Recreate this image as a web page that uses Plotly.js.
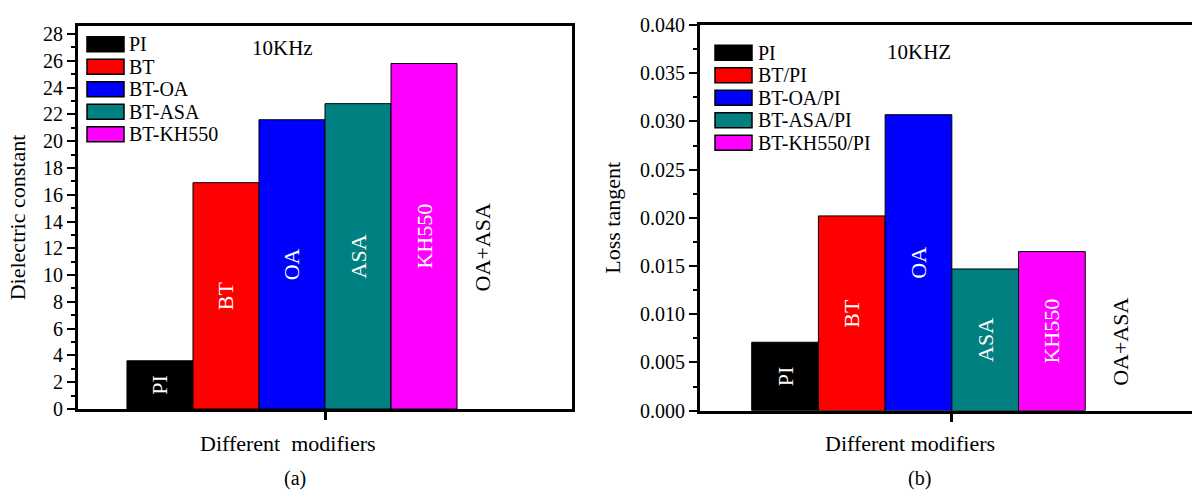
<!DOCTYPE html>
<html>
<head>
<meta charset="utf-8">
<script src="https://cdn.plot.ly/plotly-3.0.1.min.js"></script>
<style>html,body{margin:0;padding:0;background:#fff;}#chart{width:1192px;height:490px;}</style>
</head>
<body>
<div id="chart"></div>
<script>
// ---- data ----
const legendA = ['PI', 'BT', 'BT-OA', 'BT-ASA', 'BT-KH550'];
const legendB = ['PI', 'BT/PI', 'BT-OA/PI', 'BT-ASA/PI', 'BT-KH550/PI'];
const barLabels = ['PI', 'BT', 'OA', 'ASA', 'KH550'];
const emptySeriesLabel = 'OA+ASA';
const dielectricConstant = [3.6, 16.9, 21.6, 22.8, 25.8];
const lossTangent = [0.0071, 0.0202, 0.0307, 0.0147, 0.0165];
const freqA = '10KHz';
const freqB = '10KHZ';
const xTitleA = 'Different\u00a0 modifiers';
const xTitleB = 'Different modifiers';
const yTitleA = 'Dielectric constant';
const yTitleB = 'Loss tangent';
const panelA = '(a)';
const panelB = '(b)';

// ---- styles ----
const colors = ['#000000', '#FF0000', '#0000FF', '#008080', '#FF00FF'];
const FONT = 'Liberation Serif, Times New Roman, serif';
const FS = 20;      // tick labels
const FL = 22;      // titles / bar labels
const FLEG = 20;    // legend labels
const W = 1192, H = 490;

const nSlots = barLabels.length + 1;      // 6th slot is the empty OA+ASA series
const groupCenter = (1 + nSlots) / 2;

const traces = [];
function addPanel(values, names, xa, ya) {
  values.forEach((v, i) => {
    traces.push({
      type: 'bar', x: [i + 1], y: [v], width: 1, name: names[i],
      xaxis: xa, yaxis: ya, showlegend: false,
      marker: {color: colors[i], line: {color: '#000', width: 1}},
      text: [barLabels[i]], textposition: 'inside', insidetextanchor: 'middle',
      textangle: -90, insidetextfont: {color: '#fff', size: FL, family: FONT},
      hoverinfo: 'x+y'
    });
  });
}
addPanel(dielectricConstant, legendA, 'x', 'y');
addPanel(lossTangent, legendB, 'x2', 'y2');

// legend drawn as swatches + labels (Origin-style wide swatches)
const shapes = [];
const annotations = [];
function addLegend(names, x0, yTop, step, textX) {
  names.forEach((nm, i) => {
    const yc = yTop + i * step;
    shapes.push({type: 'rect', xref: 'paper', yref: 'paper',
      x0: x0 / W, x1: (x0 + 37) / W, y0: 1 - (yc - 7.5) / H, y1: 1 - (yc + 7.5) / H,
      fillcolor: colors[i], line: {color: '#000', width: 1.5}});
    annotations.push({xref: 'paper', yref: 'paper', x: textX / W, y: 1 - yc / H,
      xanchor: 'left', yanchor: 'middle', text: nm, showarrow: false, borderpad: 0,
      font: {family: FONT, size: FLEG, color: '#000'}});
  });
}
addLegend(legendA, 87, 44.3, 22.5, 128);
addLegend(legendB, 715, 52.8, 22.5, 757);

const axisCommon = {
  showline: true, linecolor: '#000', linewidth: 3, showgrid: false, zeroline: false,
  ticks: 'outside', tickcolor: '#000', fixedrange: true,
  tickfont: {family: FONT, size: FS, color: '#000'}
};

function paperText(x, y, text, size) {
  return {xref: 'paper', yref: 'paper', x: x / W, y: 1 - y / H, xanchor: 'center', yanchor: 'middle',
          text: text, showarrow: false, font: {family: FONT, size: size, color: '#000'}};
}

annotations.push(
  {xref: 'x', yref: 'y', x: nSlots - 0.1, y: 12.1, text: emptySeriesLabel, textangle: -90,
   xanchor: 'center', yanchor: 'middle',
   showarrow: false, font: {family: FONT, size: FL, color: '#000'}},
  {xref: 'x2', yref: 'y2', x: nSlots + 0.03, y: 0.0071, text: emptySeriesLabel, textangle: -90,
   xanchor: 'center', yanchor: 'middle',
   showarrow: false, font: {family: FONT, size: FL, color: '#000'}},
  paperText(282, 48, freqA, FS + 1),
  paperText(919, 52, freqB, FS + 1),
  paperText(288, 443, xTitleA, FL),
  paperText(910, 443, xTitleB, FL),
  paperText(295, 478, panelA, FS),
  paperText(919, 478, panelB, FS)
);

const layout = {
  width: W, height: H,
  margin: {l: 0, r: 0, t: 0, b: 0},
  paper_bgcolor: '#fff', plot_bgcolor: '#fff',
  font: {family: FONT, size: FS, color: '#000'},
  barmode: 'overlay',
  showlegend: false,
  xaxis: Object.assign({}, axisCommon, {
    domain: [78 / W, 572 / W], range: [-0.242, 7.242], anchor: 'y',
    tickvals: [groupCenter], ticktext: [''], ticklen: 8, tickwidth: 3, mirror: true
  }),
  yaxis: Object.assign({}, axisCommon, {
    domain: [1 - 409 / H, 1 - 26 / H], range: [0, 28.6], anchor: 'x',
    tick0: 0, dtick: 2, ticklen: 8, tickwidth: 2, mirror: true,
    minor: {ticks: 'outside', ticklen: 4, tickwidth: 2, dtick: 1, tickcolor: '#000'},
    title: {text: yTitleA, font: {family: FONT, size: FL}, standoff: 12}
  }),
  xaxis2: Object.assign({}, axisCommon, {
    domain: [700 / W, 1], range: [-0.275, 7.1], anchor: 'y2',
    tickvals: [groupCenter], ticktext: [''], ticklen: 8, tickwidth: 3, mirror: true
  }),
  yaxis2: Object.assign({}, axisCommon, {
    domain: [1 - 410.7 / H, 1 - 25 / H], range: [0, 0.040], anchor: 'x2',
    tick0: 0, dtick: 0.005, tickformat: '.3f', ticklen: 8, tickwidth: 2, mirror: false,
    minor: {ticks: 'outside', ticklen: 4, tickwidth: 2, dtick: 0.0025, tickcolor: '#000'},
    title: {text: yTitleB, font: {family: FONT, size: FL}, standoff: 14}
  }),
  shapes: shapes,
  annotations: annotations
};

Plotly.newPlot('chart', traces, layout, {displayModeBar: false, staticPlot: true});
</script>
</body>
</html>
